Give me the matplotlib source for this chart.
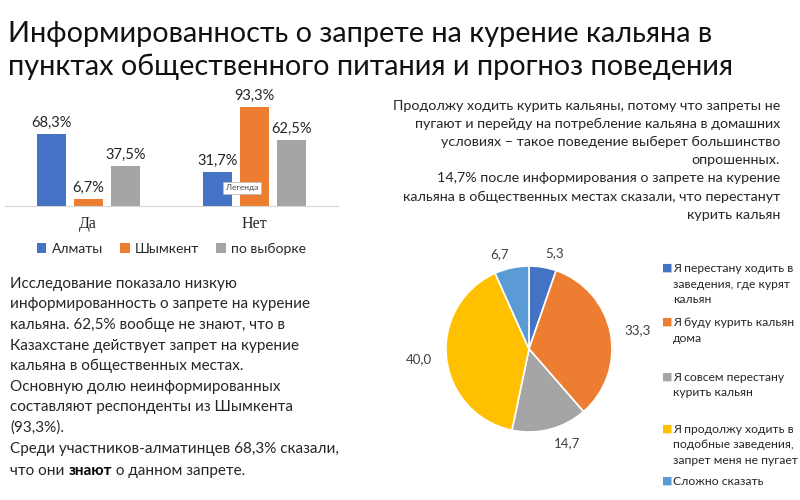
import matplotlib
matplotlib.use("Agg")
import matplotlib.pyplot as plt

# данные столбчатой диаграммы
categories = ["Да", "Нет"]
series_names = ["Алматы", "Шымкент", "по выборке"]
almaty = [68.3, 31.7]
shymkent = [6.7, 93.3]
sample = [37.5, 62.5]
bar_colors = ["#4472C4", "#ED7D31", "#A5A5A5"]

# данные круговой диаграммы
pie_labels = [
    "Я перестану ходить в\nзаведения, где курят\nкальян",
    "Я буду курить кальян\nдома",
    "Я совсем перестану\nкурить кальян",
    "Я продолжу ходить в\nподобные заведения,\nзапрет меня не пугает",
    "Сложно сказать",
]
pie_values = [5.3, 33.3, 14.7, 40.0, 6.7]
pie_colors = ["#4472C4", "#ED7D31", "#A5A5A5", "#FFC000", "#5B9BD5"]

FONT = "Lato"
TXT = "#262626"

W, H = 800, 500
fig = plt.figure(figsize=(8, 5), dpi=100)
fig.patch.set_facecolor("white")


def px(x, y):
    # пиксели картинки -> доли фигуры
    return x / W, 1 - y / H


# заголовок
x, y = px(8, 21)
fig.text(x, y, "Информированность о запрете на курение кальяна в\n"
         "пунктах общественного питания и прогноз поведения",
         fontsize=20.8, family=FONT, color="#111111", va="top", ha="left",
         linespacing=1.32)

# --- столбчатая диаграмма
ax = fig.add_axes([5 / W, 1 - 206 / H, 333 / W, 106 / H])
xs = [0, 1]
off = 0.222
bw = 0.174
for k, (vals, name) in enumerate(zip([almaty, shymkent, sample], series_names)):
    pos = [p + (k - 1) * off for p in xs]
    bars = ax.bar(pos, vals, bw, color=bar_colors[k], label=name)
    ax.bar_label(bars, labels=[f"{v:.1f}%".replace(".", ",") for v in vals],
                 padding=3, fontsize=10.5, family=FONT, color=TXT)
ax.set_xlim(-0.5, 1.5)
ax.set_ylim(0, 100)
ax.set_yticks([])
ax.set_xticks(xs)
ax.set_xticklabels(categories, family="Liberation Serif", fontsize=11.5, color=TXT)
ax.tick_params(axis="x", length=0, pad=7)
for s in ["top", "right", "left"]:
    ax.spines[s].set_visible(False)
ax.spines["bottom"].set_color("#D9D9D9")
ax.patch.set_alpha(0)
leg = ax.legend(loc="upper center", bbox_to_anchor=(0.5, -0.23), ncol=3,
                frameon=False, handlelength=0.7, handleheight=0.7,
                handletextpad=0.4, columnspacing=1.2,
                prop={"family": FONT, "size": 10})
for t in leg.get_texts():
    t.set_color(TXT)

# всплывающая подсказка "Легенда"
ax.text(1 - off + 0.05, 17, "Легенда", fontsize=6, family=FONT, color="#444444",
        va="center", ha="left",
        bbox=dict(boxstyle="square,pad=0.35", fc="white", ec="#BBBBBB", lw=0.6))

# --- текст справа
x, y = px(780, 100)
fig.text(x, y,
         "Продолжу ходить курить кальяны, потому что запреты не\n"
         "пугают и перейду на потребление кальяна в домашних\n"
         "условиях – такое поведение выберет большинство\n"
         "опрошенных.\n"
         "14,7% после информирования о запрете на курение\n"
         "кальяна в общественных местах сказали, что перестанут\n"
         "курить кальян",
         fontsize=10.3, family=FONT, color=TXT, ha="right", va="top",
         multialignment="right", linespacing=1.6)

# --- текст слева
x, y = px(10, 277)
fig.text(x, y,
         "Исследование показало низкую\n"
         "информированность о запрете на курение\n"
         "кальяна. 62,5% вообще не знают, что в\n"
         "Казахстане действует запрет на курение\n"
         "кальяна в общественных местах.\n"
         "Основную долю неинформированных\n"
         "составляют респонденты из Шымкента\n"
         "(93,3%).\n"
         "Среди участников-алматинцев 68,3% сказали,",
         fontsize=11, family=FONT, color=TXT, ha="left", va="top",
         linespacing=1.58)
x, y = px(10, 475)
t2 = fig.text(x, y, "что они ", fontsize=11, family=FONT, color=TXT,
              ha="left", va="baseline")
t3 = fig.text(0, 0, "знают", fontsize=11, family=FONT, color="black",
              weight="bold", ha="left", va="baseline")
t4 = fig.text(0, 0, " о данном запрете.", fontsize=11, family=FONT,
              color=TXT, ha="left", va="baseline")
fig.canvas.draw()
r = fig.canvas.get_renderer()
bb = t2.get_window_extent(r)
t3.set_position((bb.x1 / W, y))
bb = t3.get_window_extent(r)
t4.set_position((bb.x1 / W, y))

# --- круговая диаграмма
R = 83
cx, cy = 529, 349
pax = fig.add_axes([(cx - R) / W, 1 - (cy + R) / H, 2 * R / W, 2 * R / H])
wedges, texts = pax.pie(pie_values, colors=pie_colors, startangle=90,
                        counterclock=False,
                        labels=[f"{v:.1f}".replace(".", ",") for v in pie_values],
                        labeldistance=1.17,
                        wedgeprops=dict(edgecolor="white", linewidth=1.2),
                        textprops=dict(fontsize=9.5, family=FONT, color="#404040"))
pax.set_xlim(-1, 1)
pax.set_ylim(-1, 1)
pax.set_aspect("equal")

# легенда круговой диаграммы
legend_tops = [268, 322, 377, 429, 481]
for lab, col, ty in zip(pie_labels, pie_colors, legend_tops):
    x, y = px(662, ty)
    fig.text(x, y, "■", color=col, fontsize=8, family="DejaVu Sans",
             va="center", ha="left")
    x, y = px(673, ty - 5)
    fig.text(x, y, lab, color=TXT, fontsize=8.7, family=FONT, va="top",
             ha="left", linespacing=1.5)

fig.savefig("out.png", dpi=100)
